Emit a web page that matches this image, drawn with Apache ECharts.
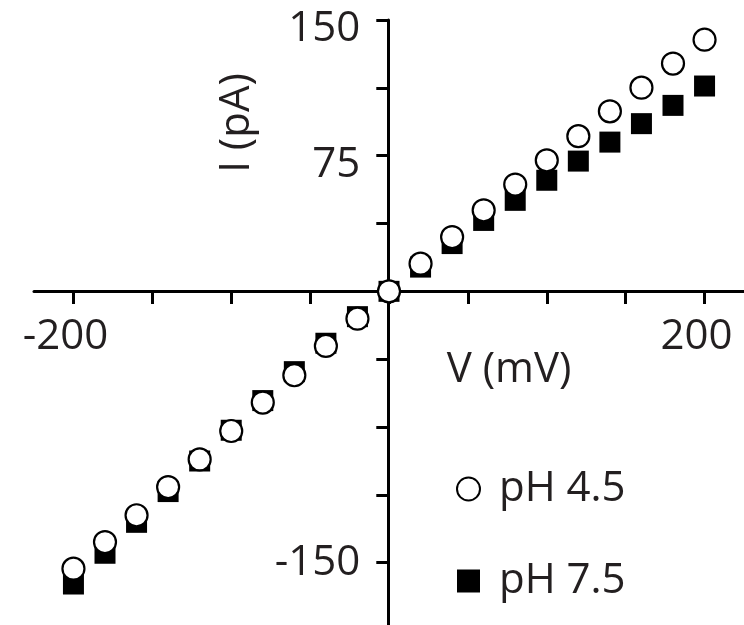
<!DOCTYPE html>
<html>
<head>
<meta charset="utf-8">
<script src="https://cdn.jsdelivr.net/npm/echarts@6/dist/echarts.min.js"></script>
<style>
  html, body { margin: 0; padding: 0; background: #fff; }
  #chart { width: 744px; height: 625px; }
</style>
</head>
<body>
<div id="chart"></div>
<script>
// I-V curve, pH 4.5 vs pH 7.5

const voltages = [-200, -180, -160, -140, -120, -100, -80, -60, -40, -20, 0,
  20, 40, 60, 80, 100, 120, 140, 160, 180, 200]
const ph45 = [-153.3, -138.6, -123.8, -108.2, -92.9, -77.2, -61.5, -46.4, -30.2, -15.1, 0,
  15.3, 30, 44.8, 59, 72.4, 85.8, 99.5, 112.6, 125.9, 139.1]
const ph75 = [-161.8, -144.8, -127.7, -110.7, -93.8, -76.8, -60.4, -44.4, -28.7, -14, 0,
  13.4, 26.4, 39.2, 50.3, 61.4, 72, 82.5, 92.7, 102.8, 113.5]
const xTicks = [-200, -150, -100, -50, 0, 50, 100, 150, 200]
const xLabels = [-200, 200]
const yLabels = [150, 75, -150]

const font = 'Open Sans'
const ink = '#231f20'
const chart = echarts.init(document.getElementById('chart'))

const pairs = (ys) => voltages.map((v, i) => [v, ys[i]])

// axes cross at the origin: shift them in from the grid edges with offset
const option = {
  animation: false,
  backgroundColor: '#fff',
  textStyle: {fontFamily: font},
  grid: {left: 34, right: 0, top: 20, bottom: -5.5, outerBoundsMode: 'none'},
  xAxis: {
    type: 'value',
    min: -225,
    max: 225,
    offset: -339.5,
    splitLine: {show: false},
    axisLine: {onZero: false, lineStyle: {color: '#000', width: 3}},
    axisTick: {customValues: xTicks, length: 13, lineStyle: {color: '#000', width: 3}},
    axisLabel: {
      customValues: xLabels,
      fontSize: 42,
      color: ink,
      margin: 25,
      padding: [0, 16, 0, 0]
    }
  },
  yAxis: {
    type: 'value',
    min: -187.5,
    max: 150,
    interval: 37.5,
    offset: -354.3,
    splitLine: {show: false},
    axisLine: {onZero: false, lineStyle: {color: '#000', width: 3}},
    axisTick: {length: 12, lineStyle: {color: '#000', width: 3}},
    axisLabel: {
      fontSize: 42,
      color: ink,
      margin: 28,
      // positive labels sit a little below their ticks
      formatter: (v) => {
        if (!yLabels.includes(v)) return ''
        return v > 0 ? '{lo|' + v + '}' : String(v)
      },
      rich: {
        lo: {fontSize: 42, color: ink, fontFamily: font, padding: [18, 0, 0, 0]}
      }
    }
  },
  legend: {
    orient: 'vertical',
    left: 451,
    top: 462,
    itemWidth: 23,
    itemHeight: 23,
    itemGap: 48,
    textStyle: {fontSize: 42, color: ink, lineHeight: 44, padding: [0, 0, 0, 14]},
    data: [
      {name: 'pH 4.5', icon: 'circle'},
      {name: 'pH 7.5', icon: 'rect'}
    ]
  },
  graphic: [
    {
      type: 'text',
      x: 237,
      y: 123,
      rotation: Math.PI / 2,
      style: {text: 'I (pA)', fontSize: 42, fontFamily: font, fill: ink,
        align: 'center', verticalAlign: 'middle'}
    },
    {
      type: 'text',
      x: 509,
      y: 370,
      style: {text: 'V (mV)', fontSize: 42, fontFamily: font, fill: ink,
        align: 'center', verticalAlign: 'middle'}
    }
  ],
  series: [
    {
      name: 'pH 7.5',
      type: 'scatter',
      symbol: 'rect',
      symbolSize: 21,
      itemStyle: {color: '#000', opacity: 1},
      data: pairs(ph75)
    },
    {
      name: 'pH 4.5',
      type: 'scatter',
      symbol: 'circle',
      symbolSize: 22,
      itemStyle: {color: '#fff', borderColor: '#000', borderWidth: 2.2, opacity: 1},
      data: pairs(ph45)
    }
  ]
}

option && chart.setOption(option)
</script>
</body>
</html>
